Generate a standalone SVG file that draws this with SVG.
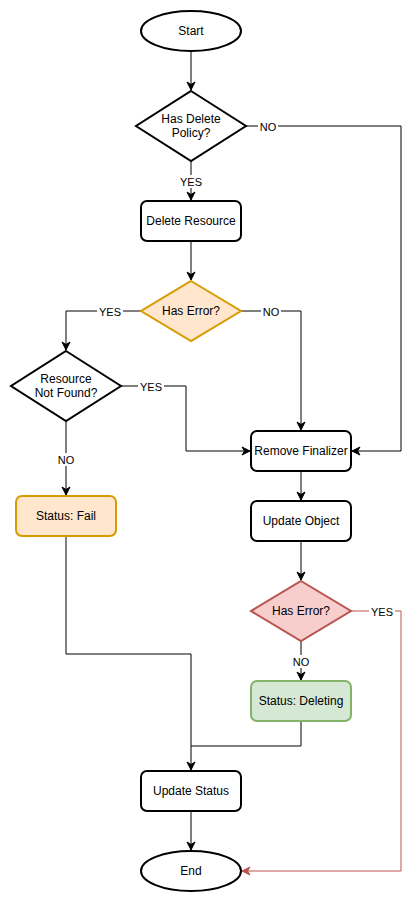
<svg xmlns="http://www.w3.org/2000/svg" width="420" height="902" viewBox="0 0 420 902">
<defs>
<style>
.n{stroke:#000;stroke-width:2;fill:#fff}
.o{fill:#ffe6cc;stroke:#d79b00;stroke-width:2}
.r{fill:#f8cecc;stroke:#b85450;stroke-width:2}
.g{fill:#d5e8d4;stroke:#82b366;stroke-width:2}
text{font-family:"Liberation Sans",Arial,sans-serif;font-size:12px;fill:#000;text-anchor:middle;dominant-baseline:central}
.l{font-size:11px}
.c{fill:none;stroke:#000;stroke-width:1}
.cr{fill:none;stroke:#b85450;stroke-width:1}
.lb{fill:#fff;stroke:none}
</style>
<marker id="a" markerUnits="userSpaceOnUse" markerWidth="10" markerHeight="10" refX="9" refY="5" orient="auto">
<path d="M1,1 L9,5 L1,9 L3.5,5 z" fill="#000" stroke="#000" stroke-width="1"/>
</marker>
<marker id="ar" markerUnits="userSpaceOnUse" markerWidth="10" markerHeight="10" refX="9" refY="5" orient="auto">
<path d="M1,1 L9,5 L1,9 L3.5,5 z" fill="#b85450" stroke="#b85450" stroke-width="1"/>
</marker>
</defs>
<g id="connectors">
<path class="c" d="M191,51 V90" marker-end="url(#a)"/>
<path class="c" d="M191,161 V200" marker-end="url(#a)"/>
<path class="c" d="M246,126 H401 V451 H352" marker-end="url(#a)"/>
<path class="c" d="M191,241 V280" marker-end="url(#a)"/>
<path class="c" d="M141,311 H66 V350" marker-end="url(#a)"/>
<path class="c" d="M241,311 H301 V430" marker-end="url(#a)"/>
<path class="c" d="M121,386 H186 V451 H250" marker-end="url(#a)"/>
<path class="c" d="M66,421 V495" marker-end="url(#a)"/>
<path class="c" d="M301,471 V500" marker-end="url(#a)"/>
<path class="c" d="M301,541 V580" marker-end="url(#a)"/>
<path class="c" d="M301,641 V680" marker-end="url(#a)"/>
<path class="cr" d="M351,611 H401 V871 H242" marker-end="url(#ar)"/>
<path class="c" d="M66,536 V654 H191 V770" marker-end="url(#a)"/>
<path class="c" d="M301,721 V746 H191"/>
<path class="c" d="M191,811 V850" marker-end="url(#a)"/>
<rect class="lb" x="258" y="120" width="20" height="13"/>
<text class="l" x="268" y="127">NO</text>
<rect class="lb" x="178" y="175" width="26" height="13"/>
<text class="l" x="191" y="182">YES</text>
<rect class="lb" x="97" y="305" width="26" height="13"/>
<text class="l" x="110" y="312">YES</text>
<rect class="lb" x="261" y="305" width="20" height="13"/>
<text class="l" x="271" y="312">NO</text>
<rect class="lb" x="138" y="380" width="26" height="13"/>
<text class="l" x="151" y="387">YES</text>
<rect class="lb" x="56" y="453" width="20" height="13"/>
<text class="l" x="66" y="460">NO</text>
<rect class="lb" x="369" y="605" width="26" height="13"/>
<text class="l" x="382" y="612">YES</text>
<rect class="lb" x="291" y="655" width="20" height="13"/>
<text class="l" x="301" y="662">NO</text>
</g>
<g id="start"><ellipse class="n" cx="191" cy="31" rx="50" ry="20"/><text x="191" y="31">Start</text></g>
<g id="hasDeletePolicy"><path class="n" d="M191,91 L246,126 L191,161 L136,126 Z"/><text x="191" y="119">Has Delete</text><text x="191" y="133">Policy?</text></g>
<g id="deleteResource"><rect class="n" x="141" y="201" width="100" height="40" rx="6"/><text x="191" y="221">Delete Resource</text></g>
<g id="hasError1"><path class="o" d="M191,281 L241,311 L191,341 L141,311 Z"/><text x="191" y="311">Has Error?</text></g>
<g id="resourceNotFound"><path class="n" d="M66,351 L121,386 L66,421 L11,386 Z"/><text x="66" y="379">Resource</text><text x="66" y="393">Not Found?</text></g>
<g id="statusFail"><rect class="o" x="16" y="496" width="100" height="40" rx="6"/><text x="66" y="516">Status: Fail</text></g>
<g id="removeFinalizer"><rect class="n" x="251" y="431" width="100" height="40" rx="6"/><text x="301" y="451">Remove Finalizer</text></g>
<g id="updateObject"><rect class="n" x="251" y="501" width="100" height="40" rx="6"/><text x="301" y="521">Update Object</text></g>
<g id="hasError2"><path class="r" d="M301,581 L351,611 L301,641 L251,611 Z"/><text x="301" y="611">Has Error?</text></g>
<g id="statusDeleting"><rect class="g" x="251" y="681" width="100" height="40" rx="6"/><text x="301" y="701">Status: Deleting</text></g>
<g id="updateStatus"><rect class="n" x="141" y="771" width="100" height="40" rx="6"/><text x="191" y="791">Update Status</text></g>
<g id="end"><ellipse class="n" cx="191" cy="871" rx="50" ry="20"/><text x="191" y="871">End</text></g>
</svg>
